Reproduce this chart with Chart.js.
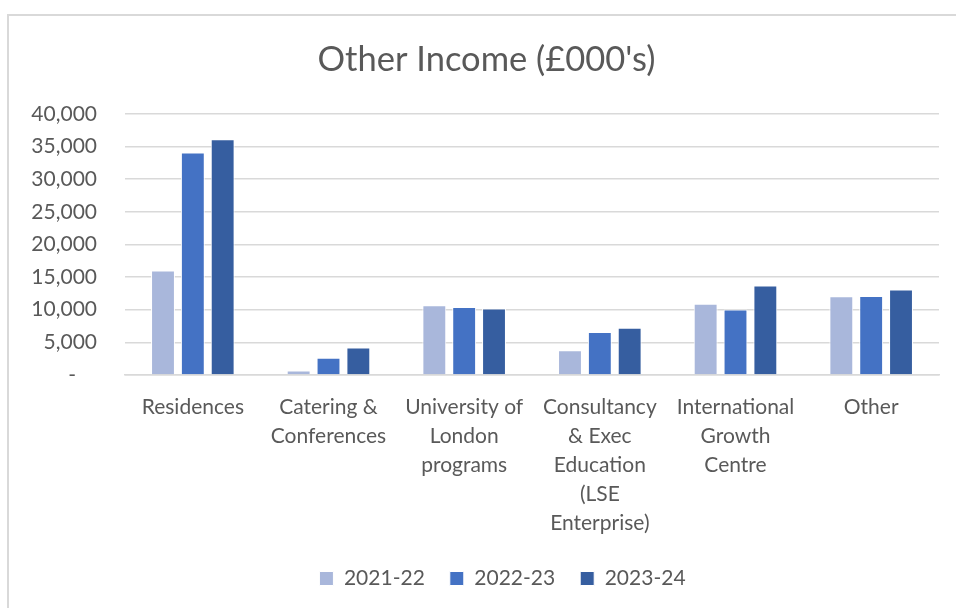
<!DOCTYPE html>
<html>
<head>
<meta charset="utf-8">
<script src="https://cdn.jsdelivr.net/npm/chart.js@4"></script>
<style>
  html, body { margin: 0; padding: 0; background: #fff; }
  #wrap { position: relative; width: 956px; height: 608px; overflow: hidden; }
  #frame {
    position: absolute; left: 7px; top: 14px; width: 1000px; height: 700px;
    border-top: 2px solid #d9d9d9; border-left: 2px solid #d9d9d9; pointer-events: none;
  }
  canvas { position: absolute; left: 0; top: 0; }
</style>
</head>
<body>
<div id="wrap">
  <canvas id="chart" width="956" height="608"></canvas>
  <div id="frame"></div>
</div>
<script>
const categories = [
    'Residences',
    ['Catering &', 'Conferences'],
    ['University of', 'London', 'programs'],
    ['Consultancy', '& Exec', 'Education', '(LSE', 'Enterprise)'],
    ['International', 'Growth', 'Centre'],
    'Other'
];
const seriesNames = ['2021-22', '2022-23', '2023-24'];
const income2122 = [16000, 700, 10700, 3800, 10900, 12050];
const income2223 = [34100, 2650, 10400, 6600, 10050, 12100];
const income2324 = [36100, 4200, 10200, 7250, 13700, 13100];
const colours = ['#a9b7db', '#4472c4', '#365ea0'];

const fontFamily = 'Lato, "Noto Sans", sans-serif';
const textColour = '#595959';
const gridColour = '#d9d9d9';

// nudge the title and legend right so they sit centred in the framed panel
const shiftHeaders = {
    id: 'shiftHeaders',
    afterLayout(chart) {
        const moves = [[chart.legend, 33], [chart.titleBlock, 17]];
        moves.forEach(([box, dx]) => {
            if (box) { box.left += dx; box.right += dx; }
        });
    }
};

const ctx = document.getElementById('chart').getContext('2d');

const chart = new Chart(ctx, {
    type: 'bar',
    data: {
        labels: categories,
        datasets: [income2122, income2223, income2324].map((values, i) => ({
            label: seriesNames[i],
            data: values,
            backgroundColor: colours[i],
            borderColor: '#ffffff',
            borderWidth: 1,
            categoryPercentage: 0.66,
            barPercentage: 0.8
        }))
    },
    plugins: [shiftHeaders],
    options: {
        responsive: false,
        animation: false,
        devicePixelRatio: 1,
        layout: { padding: { left: 0, right: 17, top: 0, bottom: 9 } },
        plugins: {
            title: {
                display: true,
                text: "Other Income (£000's)",
                color: textColour,
                font: { family: fontFamily, size: 34.5, weight: 'normal' },
                padding: { top: 39, bottom: 33.5 }
            },
            legend: {
                position: 'bottom',
                labels: {
                    color: textColour,
                    font: { family: fontFamily, size: 21 },
                    boxWidth: 14,
                    boxHeight: 14,
                    padding: 25
                }
            },
            tooltip: { enabled: false }
        },
        scales: {
            x: {
                afterFit: (scale) => { scale.height = 168; },
                grid: { display: false },
                border: { display: true, color: gridColour, width: 1.5 },
                ticks: {
                    color: textColour,
                    font: { family: fontFamily, size: 21, lineHeight: 1.38 },
                    autoSkip: false,
                    maxRotation: 0,
                    minRotation: 0,
                    padding: 10
                }
            },
            y: {
                min: 0,
                max: 40000,
                afterFit: (scale) => { scale.width = 125; },
                grid: { color: gridColour, lineWidth: 1.5, drawTicks: false },
                border: { display: false },
                ticks: {
                    stepSize: 5000,
                    padding: 28,
                    color: textColour,
                    font: { family: fontFamily, size: 21 },
                    callback: (value) => value === 0 ? '-\u2002\u2002' : value.toLocaleString('en-US')
                }
            }
        }
    }
});
</script>
</body>
</html>
